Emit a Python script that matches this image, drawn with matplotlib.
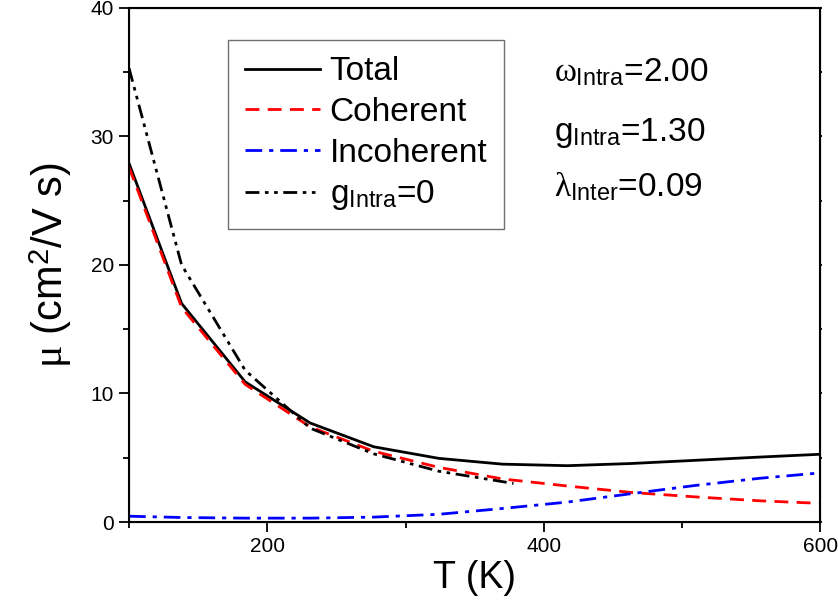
import matplotlib
matplotlib.use("Agg")
import matplotlib.pyplot as plt
from matplotlib.ticker import MultipleLocator

plt.rcParams["font.family"] = ["Liberation Sans", "DejaVu Sans"]
plt.rcParams["mathtext.fontset"] = "custom"
plt.rcParams["mathtext.rm"] = "Liberation Sans"
plt.rcParams["mathtext.it"] = "Liberation Serif"

# temperature grid (K)
T = [100, 138, 184, 231, 277, 324, 370, 417, 463, 510, 556, 600]
total = [27.9, 17.0, 10.9, 7.7, 5.85, 4.95, 4.5, 4.38, 4.55, 4.8, 5.05, 5.27]
coherent = [27.6, 16.7, 10.7, 7.4, 5.5, 4.25, 3.35, 2.8, 2.3, 1.95, 1.65, 1.45]
incoherent = [0.45, 0.35, 0.3, 0.3, 0.38, 0.6, 1.05, 1.55, 2.2, 2.85, 3.4, 3.82]
T_g0 = [100, 138, 184, 231, 277, 324, 378]
g0 = [35.3, 20.0, 11.8, 7.3, 5.3, 3.95, 3.0]

labels = ["Total", "Coherent", "Incoherent", r"g$_{\rm Intra}$=0"]
params = [r"$\omega_{\rm Intra}$=2.00", r"g$_{\rm Intra}$=1.30", r"$\lambda_{\rm Inter}$=0.09"]

fig = plt.figure(figsize=(8.38, 6.0), dpi=100)
ax = fig.add_axes([0.154, 0.13, 0.825, 0.857])

ax.plot(T, total, color="black", lw=2.0, label=labels[0])
ax.plot(T, coherent, color="#ff0000", lw=2.0, ls=(0, (5, 3)), label=labels[1])
ax.plot(T, incoherent, color="#0000ff", lw=2.0, ls=(0, (6, 2.5, 1.5, 2.5)), label=labels[2])
ax.plot(T_g0, g0, color="black", lw=2.0, ls=(0, (5, 2, 1.3, 2, 1.3, 2)), label=labels[3])

ax.set_xlim(100, 600)
ax.set_ylim(0, 40)
ax.xaxis.set_major_locator(MultipleLocator(200))
ax.xaxis.set_minor_locator(MultipleLocator(100))
ax.yaxis.set_major_locator(MultipleLocator(10))
ax.yaxis.set_minor_locator(MultipleLocator(5))
ax.tick_params(which="major", direction="out", length=7, width=1.3, labelsize=15, pad=4)
ax.tick_params(which="minor", direction="out", length=4.5, width=1.3)
for s in ax.spines.values():
    s.set_linewidth(1.5)

# tiny tick marks on the right spine
ax2 = ax.twinx()
ax2.set_ylim(0, 40)
ax2.yaxis.set_major_locator(MultipleLocator(10))
ax2.yaxis.set_minor_locator(MultipleLocator(5))
ax2.tick_params(which="both", direction="out", length=1.5, width=1.3, labelright=False)

ax.set_xlabel("T (K)", fontsize=27, labelpad=3)
ax.set_ylabel(r"$\mu$ (cm$^2$/V s)", fontsize=30, labelpad=12)

leg = ax.legend(loc="upper left", bbox_to_anchor=(0.143, 0.938), borderaxespad=0,
                fontsize=24, handlelength=2.25, handletextpad=0.3,
                labelspacing=0.29, borderpad=0.5, fancybox=False, framealpha=1)
leg.get_frame().set_edgecolor("#707070")
leg.get_frame().set_linewidth(1.0)

for y, txt in zip([0.857, 0.741, 0.633], params):
    ax.text(0.614, y, txt, transform=ax.transAxes, fontsize=24, va="baseline")

fig.savefig("out.png", dpi=100)
